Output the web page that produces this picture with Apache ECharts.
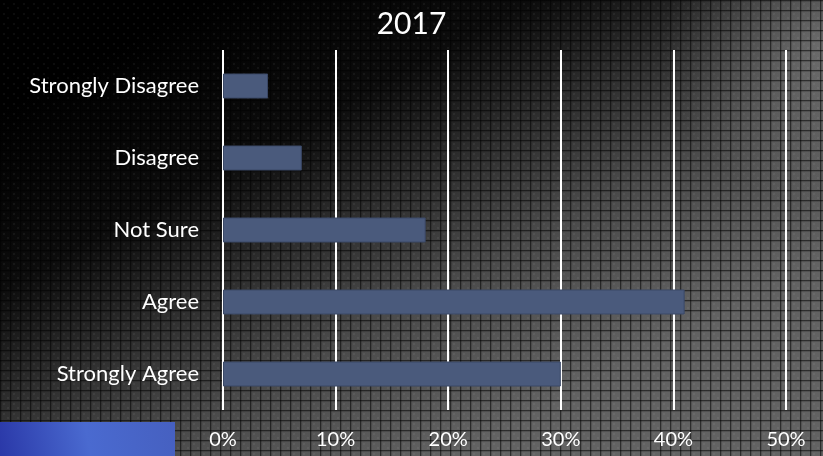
<!DOCTYPE html>
<html><head><meta charset="utf-8">
<script src="https://cdn.jsdelivr.net/npm/echarts@6/dist/echarts.min.js"></script>
<style>html,body{margin:0;padding:0;background:#000}#c{width:823px;height:456px}</style>
</head><body><div id="c"></div>
<script>
const title = '2017';
const categories = ['Strongly Agree', 'Agree', 'Not Sure', 'Disagree', 'Strongly Disagree'];
const values = [30, 41, 18, 7, 4];
const xTicks = [0, 10, 20, 30, 40, 50];

// grid texture pattern
const pc = document.createElement('canvas');
pc.width = 10; pc.height = 10;
const g = pc.getContext('2d');
g.fillStyle = 'rgba(0,0,0,0.55)';
g.fillRect(0, 0, 10, 1.3);
g.fillRect(0, 0, 1.3, 10);
g.fillStyle = 'rgba(255,255,255,0.05)';
g.fillRect(3, 3, 2, 2); g.fillRect(7, 7, 2, 2);

const chart = echarts.init(document.getElementById('c'), null, {renderer: 'canvas'});
chart.setOption({
  backgroundColor: {
    type: 'linear', x: 0.25, y: 0, x2: 0.55, y2: 1,
    colorStops: [
      {offset: 0, color: '#000000'},
      {offset: 0.3, color: '#0c0c0c'},
      {offset: 0.5, color: '#2e2e2e'},
      {offset: 0.7, color: '#4a4a4a'},
      {offset: 1, color: '#626262'}
    ]
  },
  graphic: [
    {type: 'rect', z: -20, silent: true, shape: {x: 0, y: 0, width: 823, height: 456},
     style: {fill: {type: 'radial', x: 1, y: 0.1, r: 0.35, colorStops: [
       {offset: 0, color: 'rgba(140,140,140,0.55)'}, {offset: 1, color: 'rgba(140,140,140,0)'}]}}},
    {type: 'rect', z: -10, silent: true, shape: {x: 0, y: 0, width: 823, height: 456},
     style: {fill: {image: pc, repeat: 'repeat'}}},
    {type: 'rect', z: -5, silent: true, shape: {x: 0, y: 422, width: 175, height: 34},
     style: {fill: {type: 'linear', x: 0, y: 1, x2: 1, y2: 0, colorStops: [
       {offset: 0, color: '#2a38a8'}, {offset: 0.5, color: '#4a6ad0'}, {offset: 1, color: '#4660c0'}]}}}
  ],
  title: {
    text: title, left: 'center', top: 4,
    textStyle: {color: '#ffffff', fontSize: 30, fontWeight: 'normal', fontFamily: 'Lato'}
  },
  grid: {left: 223, right: 37, top: 50, bottom: 46, containLabel: false},
  xAxis: {
    type: 'value', min: 0, max: 50, interval: 10,
    axisLine: {show: false}, axisTick: {show: false},
    splitLine: {show: true, lineStyle: {color: '#ffffff', width: 2}},
    axisLabel: {color: '#ffffff', fontSize: 20, fontFamily: 'Lato', margin: 20,
      formatter: v => xTicks.includes(v) ? v + '%' : ''}
  },
  yAxis: {
    type: 'category', data: categories,
    axisLine: {show: false}, axisTick: {show: false},
    axisLabel: {color: '#ffffff', fontSize: 22, fontFamily: 'Lato', margin: 24}
  },
  series: [{
    type: 'bar', data: values, barWidth: 25,
    itemStyle: {color: '#4a5a7c', borderColor: '#3a4866', borderWidth: 1},
    z: 3
  }]
});
</script></body></html>
